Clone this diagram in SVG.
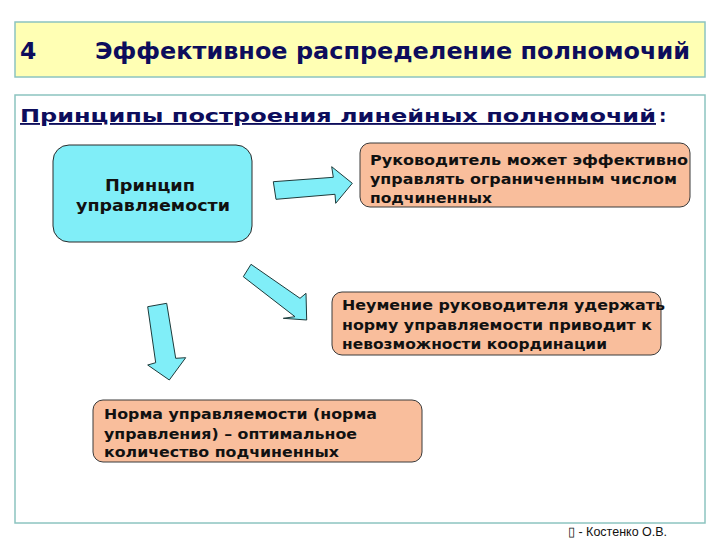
<svg xmlns="http://www.w3.org/2000/svg" width="720" height="540" viewBox="0 0 720 540">
<style>
.frame{stroke:#8CC4C0;stroke-width:1.5}
.node{fill:#F9BE9C;stroke:#3A3A3A;stroke-width:1}
.txt{font-family:"DejaVu Sans",Verdana,sans-serif;font-weight:bold;fill:#111}
.arrow{fill:#80EEF8;stroke:#1E3A3A;stroke-width:1}
.hd{font-family:"DejaVu Sans",Verdana,sans-serif;font-weight:bold;fill:#0D0D5C}
</style>
<rect width="720" height="540" fill="#fff"/>
<g id="title">
<rect class="frame" x="15" y="22" width="690" height="55" fill="#FFFFB4"/>
<text class="hd" x="20" y="59" font-size="23.5">4</text>
<text class="hd" x="95" y="59" font-size="23.5" textLength="595" lengthAdjust="spacingAndGlyphs">Эффективное распределение полномочий</text>
</g>
<g id="content">
<rect class="frame" x="15" y="95" width="690" height="428" fill="#fff"/>
<text class="hd" x="20" y="122" font-size="18.5" text-decoration="underline" textLength="636" lengthAdjust="spacingAndGlyphs">Принципы построения линейных полномочий</text>
<text class="hd" x="659" y="122" font-size="18.5">:</text>
</g>
<g id="connectors">
<polygon class="arrow" points="273.3,181.7 333.3,177.3 331.7,166.7 352.3,183.3 335.7,203.3 335,194.3 276,199.3"/>
<polygon class="arrow" points="251,264.3 300,298.3 306,293.3 306.7,320 283.3,318.3 295,316.7 243.3,276.7"/>
<polygon class="arrow" points="147.7,306.7 166.7,303.3 175.7,358.3 185.7,357.7 169.3,380 147.7,365 155.7,362.7"/>
</g>
<g id="principle">
<rect x="53" y="145" width="199" height="97" rx="16" fill="#80EEF8" stroke="#2A2A2A" stroke-width="1"/>
<text class="txt" font-size="15.5"><tspan x="105" y="190.5" textLength="90" lengthAdjust="spacingAndGlyphs">Принцип</tspan><tspan x="76" y="211" textLength="154" lengthAdjust="spacingAndGlyphs">управляемости</tspan></text>
</g>
<g id="box1">
<rect class="node" x="360" y="143" width="330" height="64" rx="10"/>
<text class="txt" font-size="14.5"><tspan x="370" y="165" textLength="318" lengthAdjust="spacingAndGlyphs">Руководитель может эффективно</tspan><tspan x="370" y="184" textLength="307" lengthAdjust="spacingAndGlyphs">управлять ограниченным числом</tspan><tspan x="370" y="202.5" textLength="122" lengthAdjust="spacingAndGlyphs">подчиненных</tspan></text>
</g>
<g id="box2">
<rect class="node" x="332" y="292" width="329" height="63" rx="10"/>
<text class="txt" font-size="14.5"><tspan x="342" y="310" textLength="323" lengthAdjust="spacingAndGlyphs">Неумение руководителя удержать</tspan><tspan x="342" y="330" textLength="310" lengthAdjust="spacingAndGlyphs">норму управляемости приводит к</tspan><tspan x="342" y="349" textLength="265" lengthAdjust="spacingAndGlyphs">невозможности координации</tspan></text>
</g>
<g id="box3">
<rect class="node" x="93" y="400" width="329" height="62" rx="10"/>
<text class="txt" font-size="14.5"><tspan x="104" y="418.5" textLength="273" lengthAdjust="spacingAndGlyphs">Норма управляемости (норма</tspan><tspan x="104" y="438.5" textLength="253" lengthAdjust="spacingAndGlyphs">управления) – оптимальное</tspan><tspan x="104" y="457" textLength="235" lengthAdjust="spacingAndGlyphs">количество подчиненных</tspan></text>
</g>
<g id="footer">
<text x="568" y="536" font-family="'Liberation Sans',Arial,sans-serif" font-size="12.5" fill="#111">▯ - Костенко О.В.</text>
</g>
</svg>
